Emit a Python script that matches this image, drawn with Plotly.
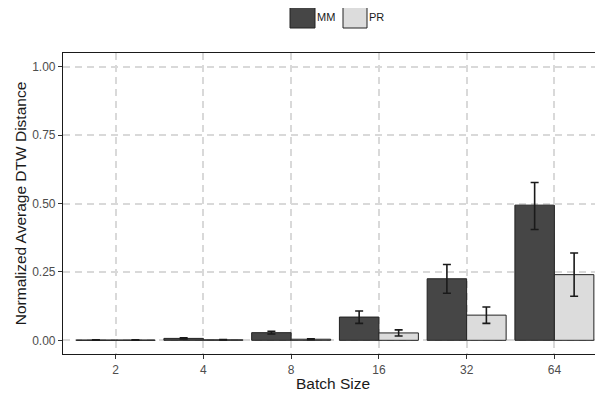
import plotly.graph_objects as go

batch_sizes = ["2", "4", "8", "16", "32", "64"]
mm_values = [0.001, 0.007, 0.028, 0.085, 0.225, 0.494]
mm_err_plus = [0.001, 0.002, 0.005, 0.022, 0.052, 0.083]
mm_err_minus = [0.001, 0.002, 0.005, 0.023, 0.053, 0.089]
pr_values = [0.001, 0.002, 0.004, 0.027, 0.092, 0.240]
pr_err_plus = [0.0005, 0.001, 0.002, 0.011, 0.030, 0.079]
pr_err_minus = [0.0005, 0.001, 0.002, 0.011, 0.030, 0.079]

FONT = "Liberation Sans, Arial, Helvetica, sans-serif"
MM_COLOR = "#464646"
PR_COLOR = "#dcdcdc"
EDGE = "#222222"

# The page body has an 8px default margin, so the figure is sized/offset for that.
OFF = 8
W, H = 603 - OFF, 396 - OFF
ML, MT, MB, MR = 63 - OFF, 53 - OFF, 42, 0
PW = W - ML - MR
PH = H - MT - MB


def px(xpage):
    return (xpage - OFF - ML) / PW


def py(ypage):
    return (H - MB - (ypage - OFF)) / PH


fig = go.Figure()
fig.add_trace(go.Bar(
    x=batch_sizes, y=mm_values, name="MM",
    marker=dict(color=MM_COLOR, line=dict(color=EDGE, width=1)),
    error_y=dict(type="data", symmetric=False, array=mm_err_plus, arrayminus=mm_err_minus,
                 color="#1a1a1a", thickness=1.6, width=4),
    showlegend=False,
))
fig.add_trace(go.Bar(
    x=batch_sizes, y=pr_values, name="PR",
    marker=dict(color=PR_COLOR, line=dict(color=EDGE, width=1)),
    error_y=dict(type="data", symmetric=False, array=pr_err_plus, arrayminus=pr_err_minus,
                 color="#1a1a1a", thickness=1.6, width=4),
    showlegend=False,
))

# manual legend (ggplot-style large keys)
legend_items = [("MM", MM_COLOR, 290, 315, 317), ("PR", PR_COLOR, 343, 367, 369)]
for label, col, x0, x1, tx in legend_items:
    fig.add_shape(type="rect", xref="paper", yref="paper",
                  x0=px(x0), x1=px(x1), y0=py(28), y1=py(5),
                  fillcolor=col, line=dict(color=EDGE, width=1))
    fig.add_annotation(xref="paper", yref="paper", x=px(tx), y=py(17),
                       text=label, showarrow=False, xanchor="left", yanchor="middle",
                       xshift=-2, font=dict(family=FONT, size=11, color="#1a1a1a"))

fig.update_layout(
    width=W, height=H,
    margin=dict(l=ML, r=MR, t=MT, b=MB, pad=0),
    paper_bgcolor="white", plot_bgcolor="white",
    barmode="group", bargap=0.1, bargroupgap=0,
    font=dict(family=FONT, color="#1a1a1a"),
)
grid = dict(showgrid=True, gridcolor="#d9d9d9", griddash="7px,5px", gridwidth=1.6)
fig.update_xaxes(
    type="category", range=[-0.6, 5.554],
    showline=True, linecolor="#1a1a1a", linewidth=1.2, mirror=True,
    ticks="outside", ticklen=4, tickwidth=1.2, tickcolor="#333333",
    tickfont=dict(family=FONT, size=12, color="#4d4d4d"),
    title=dict(text="Batch Size", font=dict(family=FONT, size=15.5, color="#1a1a1a"), standoff=2),
    **grid,
)
fig.update_yaxes(
    range=[-0.05, 1.05], tickvals=[0, 0.25, 0.5, 0.75, 1.0], tickformat=".2f",
    showline=True, linecolor="#1a1a1a", linewidth=1.2,
    ticks="outside", ticklen=4, tickwidth=1.2, tickcolor="#333333",
    tickfont=dict(family=FONT, size=12, color="#4d4d4d"),
    zeroline=False,
    title=dict(text="Normalized Average DTW Distance", font=dict(family=FONT, size=15.5, color="#1a1a1a"), standoff=1),
    **grid,
)

fig.write_html("out.html")
